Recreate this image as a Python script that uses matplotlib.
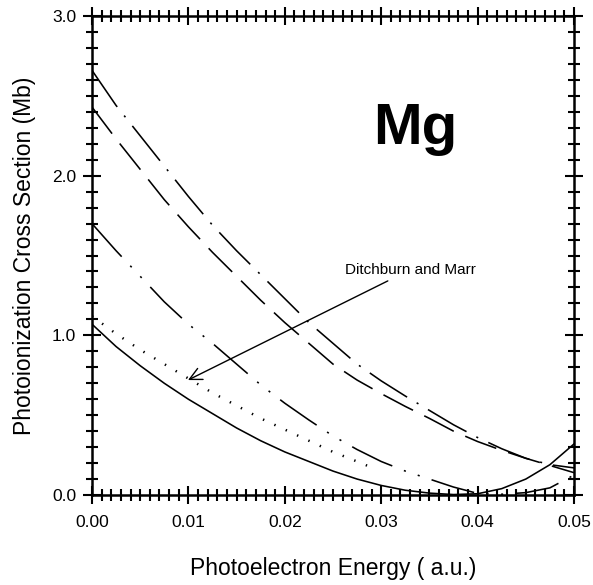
import numpy as np
import matplotlib.pyplot as plt
from matplotlib.ticker import MultipleLocator

plt.rcParams['font.family'] = ['Liberation Sans', 'DejaVu Sans']
plt.rcParams['lines.scale_dashes'] = False

# photoelectron energy grid (a.u.)
energy = [0.0, 0.0025, 0.005, 0.0075, 0.01, 0.0125, 0.015, 0.0175, 0.02, 0.0225,
          0.025, 0.0275, 0.03, 0.0325, 0.035, 0.0375, 0.04, 0.0425, 0.045, 0.0475, 0.05]

solid = [1.07, 0.93, 0.81, 0.70, 0.60, 0.51, 0.42, 0.34, 0.27, 0.21,
         0.15, 0.10, 0.06, 0.03, 0.012, 0.003, 0.008, 0.04, 0.10, 0.19, 0.32]

dotted_e = [0.0, 0.0025, 0.005, 0.0075, 0.01, 0.0125, 0.015, 0.0175, 0.02, 0.0225,
            0.025, 0.0275, 0.0295]
dotted = [1.12, 1.01, 0.91, 0.82, 0.73, 0.64, 0.56, 0.48, 0.41, 0.34,
          0.27, 0.21, 0.16]

dash_dot_dot = [1.70, 1.53, 1.37, 1.21, 1.07, 0.95, 0.82, 0.69, 0.575, 0.47,
                0.37, 0.285, 0.21, 0.15, 0.10, 0.05, 0.01, 0.005, 0.015, 0.045, 0.125]

long_dash = [2.43, 2.23, 2.04, 1.85, 1.68, 1.52, 1.37, 1.22, 1.08, 0.95,
             0.82, 0.72, 0.635, 0.555, 0.48, 0.40, 0.335, 0.28, 0.23, 0.185, 0.14]

dash_dot = [2.66, 2.44, 2.25, 2.06, 1.87, 1.69, 1.53, 1.38, 1.23, 1.08,
            0.95, 0.82, 0.715, 0.62, 0.53, 0.44, 0.36, 0.29, 0.23, 0.19, 0.17]

x_ticks = [0.00, 0.01, 0.02, 0.03, 0.04, 0.05]
y_ticks = [0.0, 1.0, 2.0, 3.0]

fig = plt.figure(figsize=(5.93, 5.85), dpi=100)
ax = fig.add_axes([0.1551, 0.1538, 0.8129, 0.8188])

lw = 1.15
ax.plot(energy, solid, color="black", lw=lw, ls="-")
ax.plot(dotted_e, dotted, color="black", lw=1.8, ls=(0, (1.0, 8.0)))
ax.plot(energy, dash_dot_dot, color="black", lw=lw, ls=(0, (32, 9, 1.5, 9, 1.5, 9)))
ax.plot(energy, long_dash, color="black", lw=lw, ls=(0, (24, 9)))
ax.plot(energy, dash_dot, color="black", lw=lw, ls=(0, (32, 8, 1.5, 8)))

ax.annotate("Ditchburn and Marr", xy=(0.00996, 0.72), xytext=(0.0262, 1.41),
            fontsize=11, va="center", ha="left",
            arrowprops=dict(arrowstyle="->", color="black", lw=1.0,
                            mutation_scale=22, shrinkA=2, shrinkB=0))

ax.text(0.02915, 2.2, "Mg", fontsize=42, fontweight="bold", ha="left", va="baseline")

ax.set_xlim(0, 0.05)
ax.set_ylim(0, 3.0)
ax.set_xticks(x_ticks)
ax.set_yticks(y_ticks)
ax.set_xticklabels([f"{v:.2f}" for v in x_ticks])
ax.set_yticklabels([f"{v:.1f}" for v in y_ticks])
ax.xaxis.set_minor_locator(MultipleLocator(0.001))
ax.yaxis.set_minor_locator(MultipleLocator(0.1))

ax.tick_params(which="both", direction="inout", top=True, right=True,
               labelsize=12.5, width=1.5)
ax.tick_params(axis="x", which="major", length=13, pad=8)
ax.tick_params(axis="y", which="major", length=13, pad=5)
ax.tick_params(which="minor", length=8)
for s in ax.spines.values():
    s.set_linewidth(1.8)

ax.set_xlabel("Photoelectron Energy ( a.u.)", fontsize=16.5, labelpad=19)
ax.set_ylabel("Photoionization Cross Section (Mb)", fontsize=16.5, labelpad=11)

fig.savefig("out.png", dpi=100)
